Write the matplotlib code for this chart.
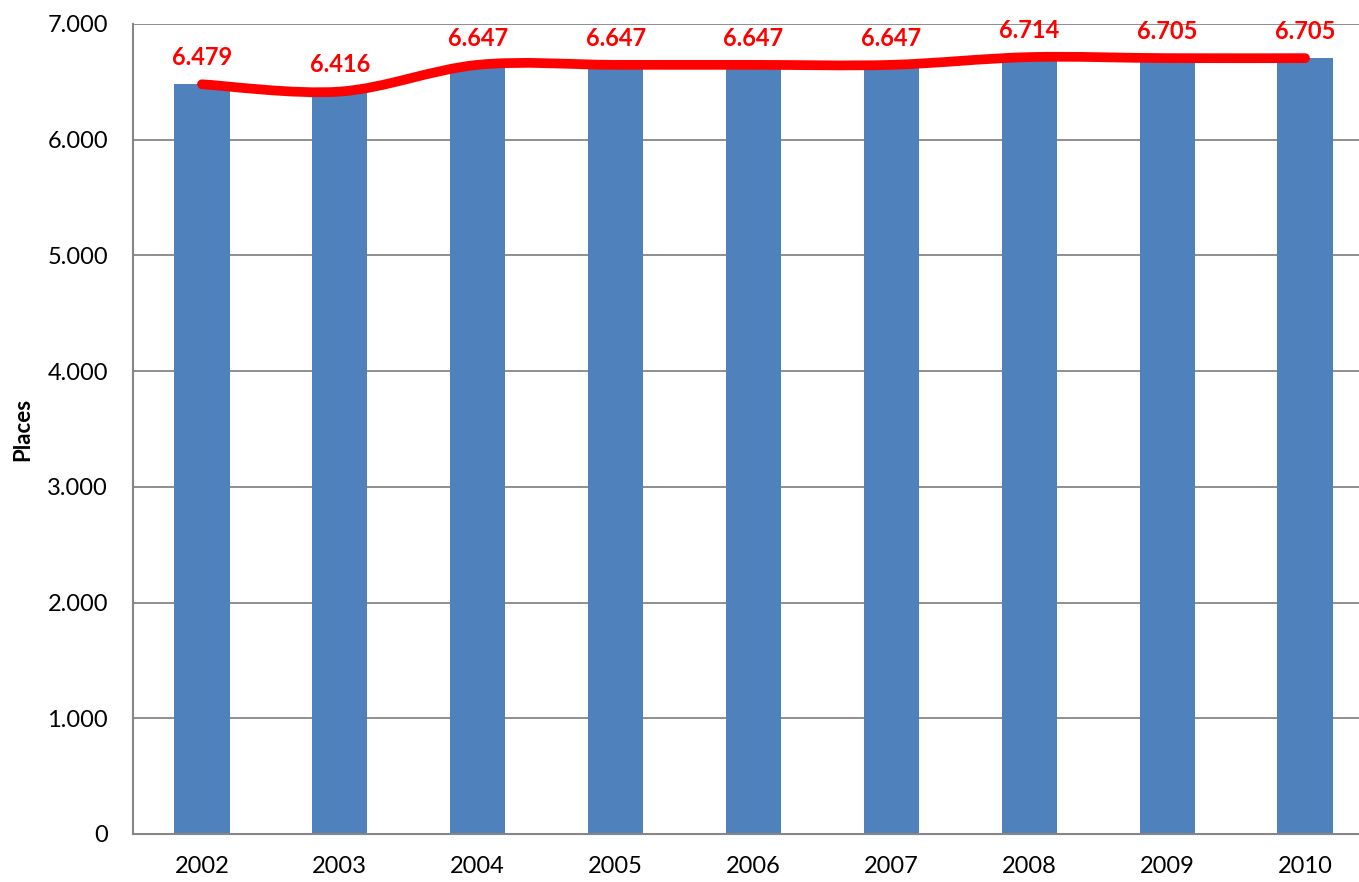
import matplotlib
matplotlib.use("Agg")
import matplotlib.pyplot as plt
from matplotlib.path import Path
from matplotlib.patches import PathPatch
import matplotlib.ticker as ticker

years = ["2002", "2003", "2004", "2005", "2006", "2007", "2008", "2009", "2010"]
places = [6479, 6416, 6647, 6647, 6647, 6647, 6714, 6705, 6705]
yticks = [0, 1000, 2000, 3000, 4000, 5000, 6000, 7000]


def smooth_path(xs, ys):
    # Bezier segments through the points (like Excel's smoothed line)
    pts = list(zip(xs, ys))
    n = len(pts)
    verts = [pts[0]]
    codes = [Path.MOVETO]
    for i in range(n - 1):
        p0 = pts[i - 1] if i > 0 else pts[i]
        p1 = pts[i]
        p2 = pts[i + 1]
        p3 = pts[i + 2] if i + 2 < n else pts[i + 1]
        c1 = (p1[0] + (p2[0] - p0[0]) / 6, p1[1] + (p2[1] - p0[1]) / 6)
        c2 = (p2[0] - (p3[0] - p1[0]) / 6, p2[1] - (p3[1] - p1[1]) / 6)
        verts += [c1, c2, p2]
        codes += [Path.CURVE4] * 3
    return Path(verts, codes)


def main():
    plt.rcParams['font.family'] = ['Lato', 'DejaVu Sans']

    fig = plt.figure(figsize=(13.59, 8.82), dpi=100)
    ax = fig.add_axes([133 / 1359, 1 - 834 / 882, (1374 - 133) / 1359, (834 - 24) / 882])

    x = list(range(len(years)))
    ax.bar(x, places, width=0.4, color='#4f81bd', zorder=2)

    patch = PathPatch(smooth_path(x, places), facecolor='none', edgecolor='#ff0000',
                      linewidth=7, capstyle='round', joinstyle='round', zorder=3)
    ax.add_patch(patch)

    for xi, v in zip(x, places):
        label = f"{v:,}".replace(",", ".")
        ax.annotate(label, (xi, v), xytext=(0, 11), textcoords='offset points',
                    ha='center', va='bottom', color='#ff0000', fontsize=17,
                    fontweight='bold')

    ax.set_xlim(-0.5, len(years) - 0.5)
    ax.set_ylim(0, 7000)
    ax.set_xticks(x)
    ax.set_xticklabels(years)
    ax.set_yticks(yticks)
    ax.yaxis.set_major_formatter(
        ticker.FuncFormatter(lambda v, p: f"{int(v):,}".replace(",", ".")))
    ax.tick_params(axis='both', labelsize=17, length=0, colors='#000000')
    ax.tick_params(axis='y', pad=18)
    ax.tick_params(axis='x', pad=16)

    ax.grid(axis='y', color='#868686', linewidth=1.3, zorder=0)
    ax.set_axisbelow(True)
    for side in ['top', 'right']:
        ax.spines[side].set_visible(False)
    for side in ['left', 'bottom']:
        ax.spines[side].set_color('#868686')
        ax.spines[side].set_linewidth(1.5)

    ax.set_ylabel('Places', fontsize=16, fontweight='bold')
    ax.yaxis.set_label_coords(-100 / 1241, 0.5)

    fig.savefig('out.png', dpi=100)


if __name__ == "__main__":
    main()
